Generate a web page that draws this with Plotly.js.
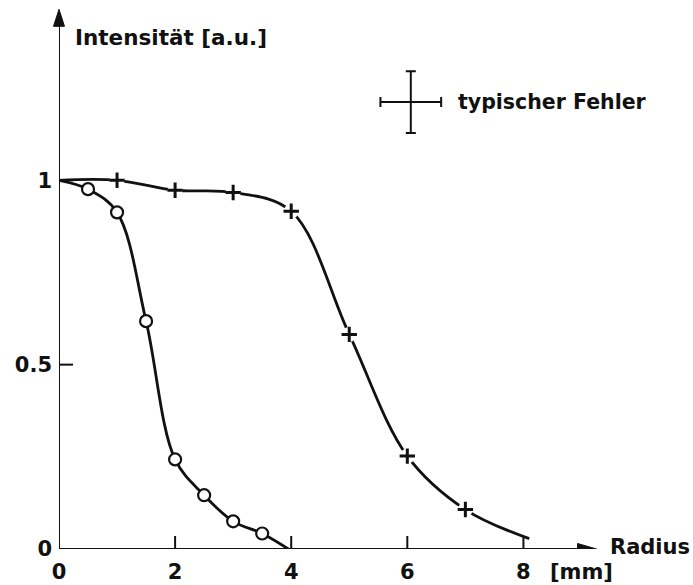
<!DOCTYPE html>
<html>
<head>
<meta charset="utf-8">
<script src="https://cdn.plot.ly/plotly-3.0.1.min.js"></script>
<style>body{margin:0;background:#fff;}</style>
</head>
<body>
<div id="chart" style="width:693px;height:585px;"></div>
<script>
// Measured points (circles)
const circleX = [0.5, 1.0, 1.5, 2.0, 2.5, 3.0, 3.5];
const circleY = [0.976, 0.913, 0.618, 0.243, 0.146, 0.075, 0.042];
// Curve through circles (with start/end anchors of the drawn curve)
const circleCurveX = [0, 0.5, 1.0, 1.5, 2.0, 2.5, 3.0, 3.5, 3.95];
const circleCurveY = [1.0, 0.976, 0.913, 0.618, 0.243, 0.146, 0.075, 0.042, 0.0];

// Measured points (plus)
const plusX = [1, 2, 3, 4, 5, 6, 7];
const plusY = [1.0, 0.973, 0.967, 0.916, 0.582, 0.252, 0.107];
const plusCurveX = [0, 1, 2, 3, 4, 5, 6, 7, 8.1];
const plusCurveY = [1.0, 1.0, 0.973, 0.967, 0.916, 0.582, 0.252, 0.107, 0.028];

// typical error cross
const errX = [6.06];
const errY = [1.212];
const errHalfX = [0.523];
const errHalfY = [0.084];

const xTickVals = [0, 2, 4, 6, 8];
const xTickText = ['0', '2', '4', '6', '8'];
const yTickVals = [0, 0.5, 1];
const yTickText = ['0', '0.5', '1'];

const FONT = 'DejaVu Sans';
const black = '#111';

const X_RANGE = [0, 10.525], Y_RANGE = [0, 1.4727];
const PLOT_W = 611, PLOT_H = 543;
const pxX = PLOT_W / (X_RANGE[1] - X_RANGE[0]);
const pxY = PLOT_H / (Y_RANGE[1] - Y_RANGE[0]);

const traces = [
  {x: circleCurveX, y: circleCurveY, mode: 'lines', line: {shape: 'spline', smoothing: 1, color: black, width: 2.8}, hoverinfo: 'skip'},
  {x: plusCurveX, y: plusCurveY, mode: 'lines', line: {shape: 'spline', smoothing: 1, color: black, width: 2.8}, hoverinfo: 'skip'},
  // white gaps around plus markers
  {x: plusX, y: plusY, mode: 'markers', marker: {symbol: 'circle', size: 15, color: '#fff', line: {width: 0}}, hoverinfo: 'skip'},
  {x: plusX, y: plusY, mode: 'markers', marker: {symbol: 'cross-thin', size: 11, color: black, line: {width: 3, color: black}}},
  {x: circleX, y: circleY, mode: 'markers', marker: {symbol: 'circle', size: 12, color: '#fff', line: {width: 2.2, color: black}}},
  {x: errX, y: errY, mode: 'markers', marker: {size: 1, color: 'rgba(0,0,0,0)'},
   error_x: {type: 'data', array: errHalfX, visible: true, color: black, thickness: 2, width: 5},
   error_y: {type: 'data', array: errHalfY, visible: true, color: black, thickness: 2, width: 5}}
];

// tick marks drawn inward (from the tick arrays)
const tickShapes = [];
xTickVals.filter(v => v > 0).forEach(v => tickShapes.push(
  {type: 'line', xref: 'x', yref: 'y', x0: v, x1: v, y0: 0, y1: 13 / pxY, line: {color: black, width: 2}}));
yTickVals.filter(v => v > 0).forEach(v => tickShapes.push(
  {type: 'line', xref: 'x', yref: 'y', x0: 0, x1: 14 / pxX, y0: v, y1: v, line: {color: black, width: 2}}));

const layout = {
  width: 693, height: 585,
  margin: {l: 59, r: 23, t: 6, b: 36, autoexpand: false},
  paper_bgcolor: '#fff', plot_bgcolor: '#fff',
  showlegend: false,
  font: {family: FONT, size: 21, color: black, weight: 'bold'},
  xaxis: {range: X_RANGE, showgrid: false, zeroline: false, showline: false,
          tickvals: xTickVals, ticktext: xTickText, ticks: '',
          tickfont: {family: FONT, size: 21, color: black, weight: 'bold'}, ticklabelstandoff: 8},
  yaxis: {range: Y_RANGE, showgrid: false, zeroline: false, showline: false,
          tickvals: yTickVals, ticktext: yTickText, ticks: '',
          tickfont: {family: FONT, size: 21, color: black, weight: 'bold'}, ticklabelstandoff: 6},
  shapes: tickShapes.concat([
    {type: 'line', xref: 'x', yref: 'y', x0: 0, y0: 0, x1: 9.0, y1: 0, line: {color: black, width: 2}},
    {type: 'line', xref: 'x', yref: 'y', x0: 0, y0: 0, x1: 0, y1: 1.42, line: {color: black, width: 2}},
    {type: 'path', xref: 'x', yref: 'y', xsizemode: 'pixel', ysizemode: 'pixel', xanchor: 9.26, yanchor: 0,
     path: 'M-19,-5.5 L0,0 L-19,5.5 Z', fillcolor: black, line: {color: black, width: 1}},
    {type: 'path', xref: 'paper', yref: 'paper',
     path: 'M-0.009,0.9626 L0,0.9939 L0.009,0.9626 Z', fillcolor: black, line: {color: black, width: 1}}
  ]),
  annotations: [
    {xref: 'x', yref: 'y', x: 0.238, y: 1.388, xanchor: 'left', yanchor: 'middle', showarrow: false,
     text: 'Intensität [a.u.]', font: {family: FONT, size: 21.5, color: black, weight: 'bold'}},
    {xref: 'x', yref: 'y', x: 6.84, y: 1.212, xanchor: 'left', yanchor: 'middle', showarrow: false,
     text: 'typischer Fehler', font: {family: FONT, size: 20.5, color: black, weight: 'bold'}},
    {xref: 'x', yref: 'y', x: 9.46, y: 0.006, xanchor: 'left', yanchor: 'middle', showarrow: false,
     text: 'Radius', font: {family: FONT, size: 21, color: black, weight: 'bold'}},
    {xref: 'x', yref: 'paper', x: 8.43, y: -0.0418, xanchor: 'left', yanchor: 'middle', showarrow: false,
     text: '[mm]', font: {family: FONT, size: 21, color: black, weight: 'bold'}}
  ]
};

Plotly.newPlot('chart', traces, layout, {displayModeBar: false, staticPlot: true});
</script>
</body>
</html>
